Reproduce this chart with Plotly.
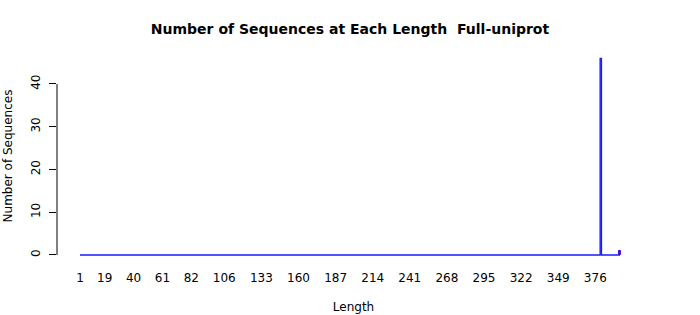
import plotly.graph_objects as go

# Data: number of sequences at each length (1..394)
lengths = list(range(1, 395))
counts = [0] * 394
counts[379] = 46   # length 380
counts[393] = 1    # length 394 (highlighted)
highlight_length = [394]
highlight_count = [1]

tick_labels = [1, 19, 40, 61, 82, 106, 133, 160, 187, 214, 241, 268, 295, 322, 349, 376]
y_ticks = [0, 10, 20, 30, 40]

fig = go.Figure()
fig.add_trace(go.Scatter(
    x=lengths, y=counts, mode="lines", line=dict(color="#1a1aff", width=1.3, shape="hvh"),
    hoverinfo="x+y", showlegend=False,
))
fig.add_trace(go.Bar(
    x=highlight_length, y=highlight_count, width=1.2,
    marker=dict(color="#5a10d8", line=dict(color="#5a10d8", width=1)),
    showlegend=False,
))

font = "DejaVu Sans, sans-serif"
fig.update_layout(
    width=700, height=315,
    margin=dict(l=57, r=50, t=50, b=53),
    paper_bgcolor="white", plot_bgcolor="white",
    title=dict(text="<b>Number of Sequences at Each Length  Full-uniprot</b>",
               x=0.5, xanchor="center", y=0.907, yanchor="middle",
               font=dict(family=font, size=14, color="black")),
    font=dict(family=font, size=12, color="black"),
    bargap=0,
)
fig.update_xaxes(
    range=[-15.74, 415.8], tickvals=tick_labels, ticktext=[str(t) for t in tick_labels],
    showgrid=False, zeroline=False, showline=False, automargin=False,
    ticks="outside", ticklen=5, tickcolor="rgba(0,0,0,0)",
    tickfont=dict(size=12, family=font),
    title=dict(text="Length", font=dict(size=12, family=font), standoff=18),
)
fig.update_yaxes(
    range=[-1.64, 47.95], tickvals=y_ticks, ticktext=[str(t) for t in y_ticks],
    showgrid=False, zeroline=False, showline=False, automargin=False,
    ticks="outside", ticklen=7, tickcolor="black", tickwidth=1,
    ticklabelstandoff=4,
    tickangle=-90, tickfont=dict(size=12, family=font),
    title=dict(text="Number of Sequences", font=dict(size=12, family=font), standoff=14),
)
# y axis line spanning only the tick range (R style)
fig.add_shape(type="line", xref="paper", yref="y", x0=0, x1=0,
              y0=min(y_ticks), y1=max(y_ticks), line=dict(color="black", width=1))

fig.write_html("out.html")
